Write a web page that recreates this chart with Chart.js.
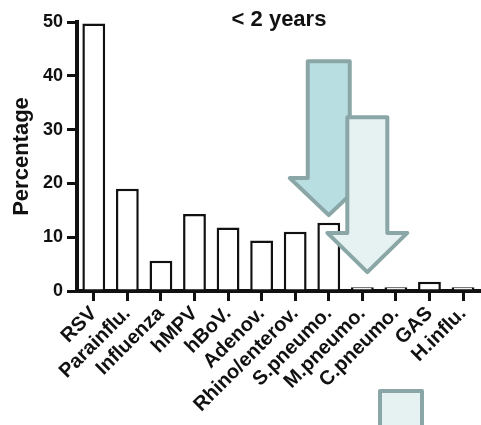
<!DOCTYPE html>
<html>
<head>
<meta charset="utf-8">
<script src="https://cdn.jsdelivr.net/npm/chart.js@4/dist/chart.umd.min.js"></script>
<style>
    html, body { margin: 0; padding: 0; background: #fff; }
    #wrap { width: 481px; height: 425px; position: relative; }
</style>
</head>
<body>
<div id="wrap"><canvas id="barChart"></canvas></div>
<script>
// === DATA ===
const pathogens   = ['RSV', 'Parainflu.', 'Influenza', 'hMPV', 'hBoV.', 'Adenov.', 'Rhino/enterov.',
                     'S.pneumo.', 'M.pneumo.', 'C.pneumo.', 'GAS', 'H.influ.'];
const percentages = [49.7, 19, 5.6, 14.3, 11.8, 9.4, 11, 12.7, 0.7, 0.7, 1.7, 0.7];
const yTicks      = [0, 10, 20, 30, 40, 50];
const chartTitle  = '< 2 years';

// arrows: [category index, shaft top, head base, tip] in percentage units
const arrowFront = [8, 32.3, 10.8, 3.5];
const arrowBack  = [7, 42.7, 21, 14.1];

const FONT = 'Liberation Sans, Arial, sans-serif';
const EDGE = '#8aa6a6';

function drawArrow(ctx, chart, spec, dx, shaftHalf, headHalf, fill) {
    const x    = chart.scales.x.getPixelForValue(spec[0]) + dx;
    const ys   = chart.scales.y;
    const top  = ys.getPixelForValue(spec[1]);
    const base = ys.getPixelForValue(spec[2]);
    const tip  = ys.getPixelForValue(spec[3]);
    ctx.beginPath();
    ctx.moveTo(x - shaftHalf, top);
    ctx.lineTo(x + shaftHalf, top);
    ctx.lineTo(x + shaftHalf, base);
    ctx.lineTo(x + headHalf, base);
    ctx.lineTo(x, tip);
    ctx.lineTo(x - headHalf, base);
    ctx.lineTo(x - shaftHalf, base);
    ctx.closePath();
    ctx.fillStyle = fill;
    ctx.fill();
    ctx.stroke();
}

const overlayPlugin = {
    id: 'overlay',
    afterDraw(chart) {
        const ctx = chart.ctx;
        ctx.save();
        // title
        ctx.fillStyle = '#111';
        ctx.font = 'bold 22px ' + FONT;
        ctx.textAlign = 'center';
        ctx.textBaseline = 'middle';
        ctx.fillText(chartTitle, 279, 20);

        ctx.strokeStyle = EDGE;
        ctx.lineWidth = 4;
        ctx.lineJoin = 'round';
        drawArrow(ctx, chart, arrowBack, 0, 21, 39, '#b8dee1');
        drawArrow(ctx, chart, arrowFront, 5, 20, 40, '#e6f2f2');

        // partial box at bottom
        ctx.beginPath();
        ctx.rect(380, 391, 42, 50);
        ctx.fillStyle = '#e6f2f2';
        ctx.fill();
        ctx.stroke();
        ctx.restore();
    },
};

new Chart(document.getElementById('barChart').getContext('2d'), {
    type: 'bar',
    data: {
        labels: pathogens,
        datasets: [{
            data:            percentages,
            backgroundColor: '#ffffff',
            borderColor:     '#111111',
            borderWidth:     2.5,
            barPercentage:   0.68,
            categoryPercentage: 1,
        }],
    },
    options: {
        responsive: true,
        maintainAspectRatio: false,
        animation: false,
        layout: { padding: { top: 22, right: 0, left: 0, bottom: 0 } },
        plugins: { legend: { display: false }, tooltip: { enabled: false } },
        scales: {
            x: {
                offset: true,
                grid:   { offset: false, drawOnChartArea: false, drawTicks: true, tickLength: 10, color: '#111', lineWidth: 3 },
                border: { display: true, color: '#111', width: 4 },
                ticks:  {
                    color: '#111', minRotation: 45, maxRotation: 45, autoSkip: false, padding: 1,
                    font: { family: FONT, size: 20, weight: 'bold' },
                },
                afterFit(scale) { scale.height = 134; },
            },
            y: {
                min: 0, max: 50,
                afterBuildTicks(scale) { scale.ticks = yTicks.map(v => ({ value: v })); },
                grid:   { drawOnChartArea: false, drawTicks: true, tickLength: 10, color: '#111', lineWidth: 3 },
                border: { display: true, color: '#111', width: 4 },
                ticks:  { color: '#111', padding: 4, font: { family: FONT, size: 18, weight: 'bold' } },
                title:  {
                    display: true, text: 'Percentage', color: '#111', padding: { top: 9, bottom: 0 },
                    font: { family: FONT, size: 22, weight: 'bold' },
                },
                afterFit(scale) { scale.width = 77; },
            },
        },
    },
    plugins: [overlayPlugin],
});
</script>
</body>
</html>
